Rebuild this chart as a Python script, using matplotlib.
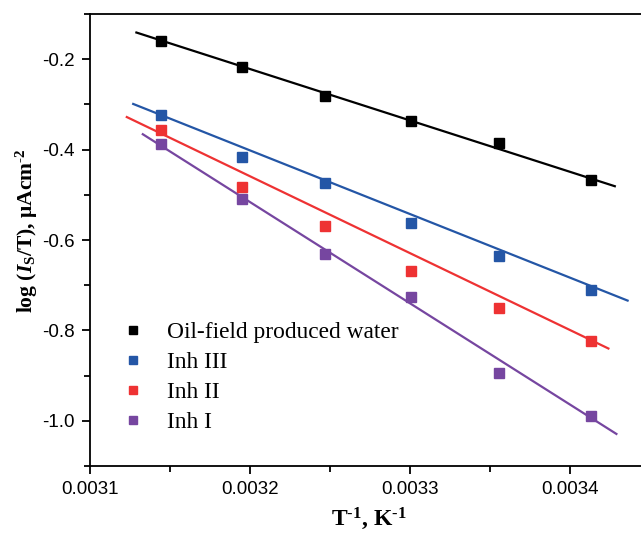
import numpy as np
import matplotlib
matplotlib.use("Agg")
import matplotlib.pyplot as plt
from matplotlib.ticker import MultipleLocator, FormatStrFormatter

plt.rcParams["mathtext.fontset"] = "custom"
plt.rcParams["mathtext.rm"] = "Liberation Serif:bold"
plt.rcParams["mathtext.bf"] = "Liberation Serif:bold"
plt.rcParams["mathtext.it"] = "Liberation Serif:italic:bold"

# temperatures (K) -> reciprocal temperature on the x axis
temps = np.array([318, 313, 308, 303, 298, 293])
inv_t = 1.0 / temps

series_names = ["Oil-field produced water", "Inh III", "Inh II", "Inh I"]
log_is_water = [-0.160, -0.218, -0.282, -0.337, -0.386, -0.467]
log_is_inh3 = [-0.324, -0.417, -0.474, -0.562, -0.635, -0.711]
log_is_inh2 = [-0.357, -0.483, -0.569, -0.669, -0.750, -0.823]
log_is_inh1 = [-0.388, -0.509, -0.631, -0.726, -0.894, -0.989]
series_values = [log_is_water, log_is_inh3, log_is_inh2, log_is_inh1]

# linear fits: x range and fitted log values at both ends
fit_x = [(0.003129, 0.003428), (0.003127, 0.003436),
         (0.003123, 0.003424), (0.003133, 0.003429)]
fit_y = [(-0.141, -0.481), (-0.299, -0.734),
         (-0.328, -0.840), (-0.366, -1.029)]

colors = ["#000000", "#2456A6", "#EE3233", "#7646A0"]

fig = plt.figure(figsize=(6.41, 5.34), dpi=100)
ax = fig.add_axes([0.1404, 0.1273, 0.87, 0.8465])

for name, vals, c, fx, fy in zip(series_names, series_values, colors, fit_x, fit_y):
    ax.plot(fx, fy, color=c, lw=1.6, zorder=2)
    ax.plot(inv_t, vals, ls="none", marker="s", ms=7.5, color=c,
            label=name, zorder=3)

ax.set_xlim(0.0031, 0.0031 + 0.87 * 641 / 1600000)
ax.set_ylim(-1.1, -0.1)

ax.xaxis.set_major_locator(MultipleLocator(0.0001))
ax.xaxis.set_minor_locator(MultipleLocator(0.00005))
ax.xaxis.set_major_formatter(FormatStrFormatter("%.4f"))
ax.yaxis.set_major_locator(MultipleLocator(0.2))
ax.yaxis.set_minor_locator(MultipleLocator(0.1))
ax.yaxis.set_major_formatter(FormatStrFormatter("%.1f"))

for side in ["left", "bottom", "top", "right"]:
    ax.spines[side].set_linewidth(1.3)
ax.tick_params(which="both", direction="out", width=1.3,
               labelsize=13.5, top=False, right=False)
ax.tick_params(which="major", length=6, pad=5)
ax.tick_params(which="minor", length=4)
for lab in ax.get_xticklabels() + ax.get_yticklabels():
    lab.set_fontfamily("Liberation Sans")

ax.set_xlabel(r"T$^{\text{-}1}$, K$^{\text{-}1}$", fontsize=17,
              fontfamily="Liberation Serif", fontweight="bold", va="top")
ax.xaxis.set_label_coords(0.5, -0.088)
ax.set_ylabel(r"log ($\mathit{I}_{\mathrm{S}}$/T), μAcm$^{\text{-}2}$",
              fontsize=15.5, fontfamily="Liberation Serif", fontweight="bold")
ax.yaxis.set_label_coords(-0.09, 0.52)

ax.legend(loc="lower left", bbox_to_anchor=(0.015, 0.027), frameon=False,
          prop={"family": "Liberation Serif", "size": 16.8},
          handletextpad=0.85, labelspacing=0.37, markerscale=0.8,
          handlelength=1.2)

fig.savefig("out.png", dpi=100)
